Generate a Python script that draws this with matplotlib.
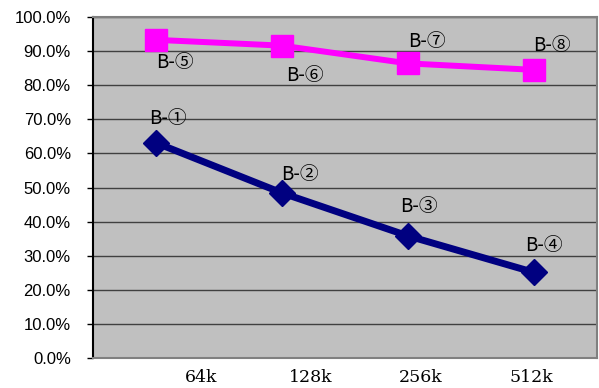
import matplotlib
matplotlib.use('Agg')
from matplotlib import pyplot as plt
from matplotlib.ticker import PercentFormatter

categories = ['64k', '128k', '256k', '512k']
label_pos = [0.36, 1.23, 2.10, 2.98]   # the category labels sit right of the points

blue_values = [63.1, 48.4, 35.8, 25.1]
pink_values = [93.3, 91.6, 86.4, 84.5]
blue_labels = ['B-①', 'B-②', 'B-③', 'B-④']
pink_labels = ['B-⑤', 'B-⑥', 'B-⑦', 'B-⑧']

# label offsets in pixels (dx, dy)
blue_offsets = [(12, 24), (18, 18), (11, 29), (10, 27)]
pink_offsets = [(19, -23), (23, -30), (19, 22), (18, 24)]

label_font = ['Noto Sans CJK JP', 'DejaVu Sans']

fig = plt.figure(figsize=(5.99, 3.88), dpi=100)
ax = fig.add_axes([93 / 599, 30 / 388, 504 / 599, 341 / 388])
ax.set_facecolor('#C0C0C0')

x = list(range(len(categories)))
ax.plot(x, blue_values, color='#000080', linewidth=5, marker='D',
        markersize=13, zorder=3)
ax.plot(x, pink_values, color='#FF00FF', linewidth=4.3, marker='s',
        markersize=16.5, zorder=3)

for xi, v, t, (dx, dy) in zip(x, blue_values, blue_labels, blue_offsets):
    ax.annotate(t, (xi, v), xytext=(dx, dy), textcoords='offset pixels',
                ha='center', va='center', fontsize=13.5, family=label_font)
for xi, v, t, (dx, dy) in zip(x, pink_values, pink_labels, pink_offsets):
    ax.annotate(t, (xi, v), xytext=(dx, dy), textcoords='offset pixels',
                ha='center', va='center', fontsize=13.5, family=label_font)

ax.set_xlim(-0.5, 3.5)
ax.set_ylim(0, 100)
ax.set_yticks(range(0, 101, 10))
ax.yaxis.set_major_formatter(PercentFormatter(decimals=1))
ax.set_xticks(label_pos)
ax.set_xticklabels(categories, family='DejaVu Serif', fontsize=12.5)
ax.tick_params(axis='x', length=0, pad=8)
ax.tick_params(axis='y', length=4, width=1, pad=12, labelsize=12, direction='out')
for lab in ax.get_yticklabels():
    lab.set_family(['Liberation Sans'])

ax.grid(axis='y', color='#404040', linewidth=1)
ax.set_axisbelow(True)
for side in ['top', 'right', 'bottom']:
    ax.spines[side].set_color('#808080')
    ax.spines[side].set_linewidth(1.5)
ax.spines['left'].set_color('black')
ax.spines['left'].set_linewidth(1.5)

fig.savefig('out.png', dpi=100)
